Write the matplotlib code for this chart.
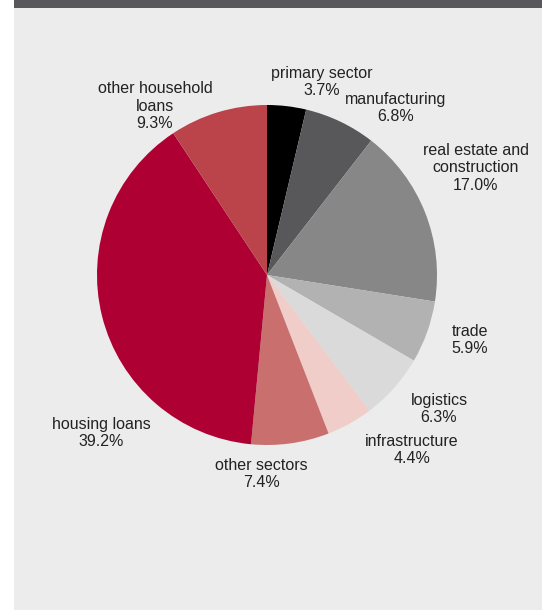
import matplotlib.pyplot as plt
from matplotlib.patches import Rectangle

plt.rcParams['font.family'] = ['Liberation Sans', 'DejaVu Sans']

sectors = ['primary sector', 'manufacturing', 'real estate and\nconstruction', 'trade',
           'logistics', 'infrastructure', 'other sectors', 'housing loans',
           'other household\nloans']
shares = [3.7, 6.8, 17.0, 5.9, 6.3, 4.4, 7.4, 39.2, 9.3]
colors = ['#000000', '#58585a', '#878787', '#b2b2b2', '#dadada',
          '#f0cdc8', '#c9706e', '#ae0032', '#bb444b']

# label anchor points (pixels from top-left), centre of text block
label_pos = [(322, 82), (396, 108), (476, 168), (470, 340), (439, 409),
             (412, 450), (261, 474), (101, 433), (155, 106)]

W, H = 542, 610
fig = plt.figure(figsize=(W / 100, H / 100), dpi=100)
fig.patch.set_facecolor('white')

# grey panel and dark top strip
fig.add_artist(Rectangle((14 / W, 0), 1 - 14 / W, 1, transform=fig.transFigure,
                         facecolor='#ebeceb', edgecolor='none', zorder=0))
fig.add_artist(Rectangle((14 / W, 1 - 8 / H), 1 - 14 / W, 8 / H, transform=fig.transFigure,
                         facecolor='#58585a', edgecolor='none', zorder=0))

cx, cy, r = 267, 275, 170
ax = fig.add_axes([(cx - r) / W, (H - cy - r) / H, 2 * r / W, 2 * r / H])
ax.pie(shares, colors=colors, startangle=90, counterclock=False, radius=1,
       wedgeprops=dict(linewidth=0))
ax.set_xlim(-1, 1)
ax.set_ylim(-1, 1)
ax.set_aspect('equal')
ax.axis('off')

for name, val, (x, y) in zip(sectors, shares, label_pos):
    fig.text(x / W, 1 - y / H, f'{name}\n{val:.1f}%', ha='center', va='center',
             fontsize=11.5, color='#222222', linespacing=1.2)

fig.savefig('out.png', dpi=100)
